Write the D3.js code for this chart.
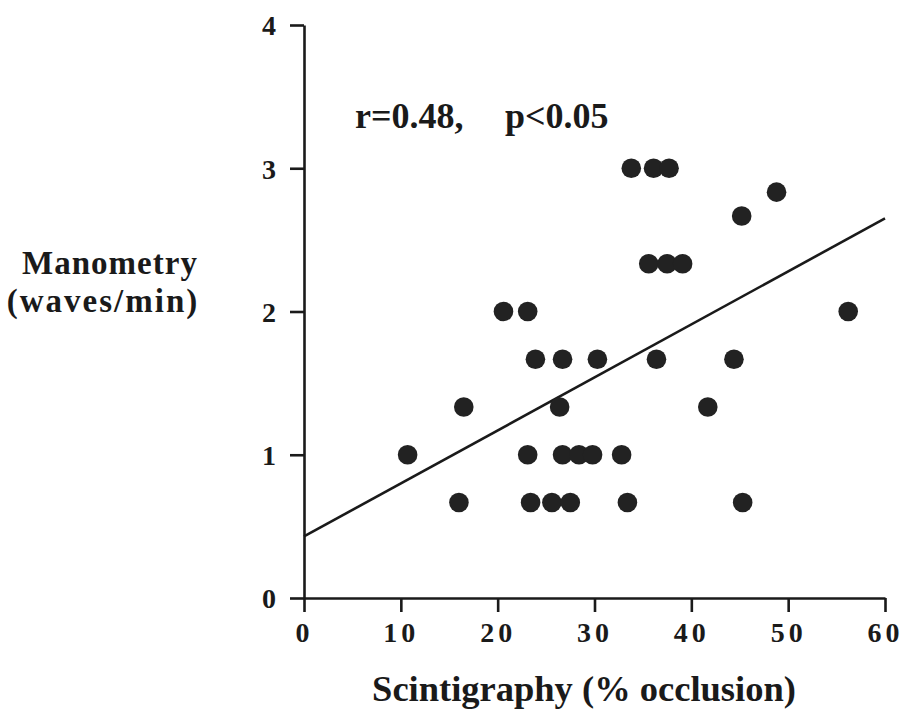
<!DOCTYPE html>
<html><head><meta charset="utf-8">
<script src="https://cdn.jsdelivr.net/npm/d3@7"></script>
<style>body{margin:0;background:#fff}svg{display:block}text{font-family:"Liberation Serif","Times New Roman",serif;font-weight:bold;fill:#1a1a1a}</style>
</head><body>
<script>
// Data
const scintigraphy = [10.7, 16.0, 16.5, 20.6, 23.1, 23.1, 23.4, 23.9, 25.6, 26.4, 26.7, 26.7, 27.5, 28.4, 29.8, 30.3, 32.8, 33.4, 33.8, 36.1, 37.7, 35.6, 37.5, 39.1, 36.4, 41.7, 44.4, 45.2, 45.3, 48.8, 56.2];
const manometry    = [1.0, 0.667, 1.333, 2.0, 2.0, 1.0, 0.667, 1.667, 0.667, 1.333, 1.667, 1.0, 0.667, 1.0, 1.0, 1.667, 1.0, 0.667, 3.0, 3.0, 3.0, 2.333, 2.333, 2.333, 1.667, 1.333, 1.667, 2.667, 0.667, 2.833, 2.0];
const xTicks = [0, 10, 20, 30, 40, 50, 60];
const yTicks = [0, 1, 2, 3, 4];
const fitLine = [[0, 0.43], [60, 2.65]];
const statText = ["r=0.48,", "p<0.05"];
const xTitle = "Scintigraphy (% occlusion)";
const yTitle = ["Manometry", "(waves/min)"];

const W = 904, H = 709;
const svg = d3.select("body").append("svg").attr("width", W).attr("height", H);
const x = d3.scaleLinear().domain([0, 60]).range([304, 885]);
const y = d3.scaleLinear().domain([0, 4]).range([598, 25]);

// axes
const xAxis = d3.axisBottom(x).tickValues(xTicks).tickFormat(d3.format("d")).tickSize(14).tickSizeOuter(0).tickPadding(10);
const yAxis = d3.axisLeft(y).tickValues(yTicks).tickFormat(d3.format("d")).tickSize(14).tickSizeOuter(0).tickPadding(14);
const gx = svg.append("g").attr("transform", `translate(0,${y(0)})`).call(xAxis);
const gy = svg.append("g").attr("transform", `translate(${x(0)},0)`).call(yAxis);
[gx, gy].forEach(g => {
  g.select(".domain").attr("stroke", "#1a1a1a").attr("stroke-width", 2.6);
  g.selectAll(".tick line").attr("stroke", "#1a1a1a").attr("stroke-width", 2.6);
  g.selectAll(".tick text").attr("fill", "#1a1a1a").style("font-family", '"Liberation Serif",serif').style("font-weight", "bold").style("font-size", "28px");
});
gx.selectAll(".tick text").style("letter-spacing", "4px").attr("dy", "0.71em");
gy.selectAll(".tick text").attr("dy", "0.35em");

// regression line
svg.append("line")
  .attr("x1", x(fitLine[0][0])).attr("y1", y(fitLine[0][1]))
  .attr("x2", x(fitLine[1][0])).attr("y2", y(fitLine[1][1]))
  .attr("stroke", "#1a1a1a").attr("stroke-width", 2.6);

// points
svg.append("g").selectAll("circle").data(scintigraphy.map((v, i) => [v, manometry[i]]))
  .join("circle")
  .attr("cx", d => x(d[0])).attr("cy", d => y(d[1])).attr("r", 9.8)
  .attr("fill", "#222");

// texts
svg.append("text").attr("x", 355).attr("y", 128).style("font-size", "36px").text(statText[0]);
svg.append("text").attr("x", 505).attr("y", 128).style("font-size", "36px").text(statText[1]);
svg.append("text").attr("x", 584).attr("y", 701).attr("text-anchor", "middle").style("font-size", "36.5px").text(xTitle);
svg.append("text").attr("x", 110).attr("y", 274).attr("text-anchor", "middle").style("font-size", "33px").style("letter-spacing", "1px").text(yTitle[0]);
svg.append("text").attr("x", 103).attr("y", 312).attr("text-anchor", "middle").style("font-size", "33px").style("letter-spacing", "2px").text(yTitle[1]);
</script>
</body></html>
